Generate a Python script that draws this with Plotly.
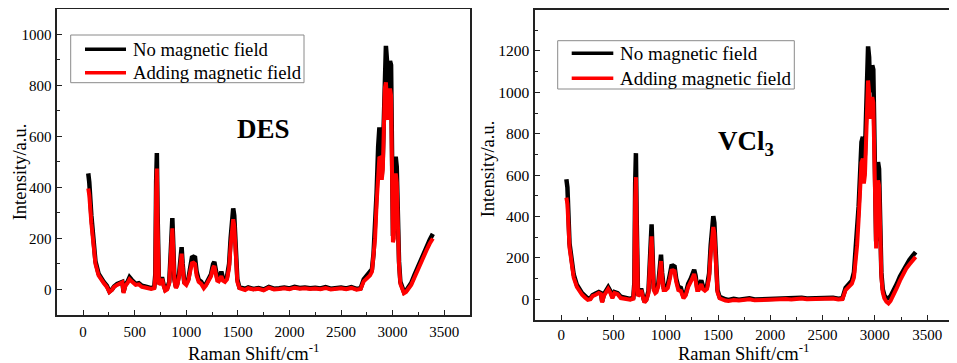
import plotly.graph_objects as go

# Raman shift (cm-1) sampling positions
raman_shift = [
    50, 60, 80, 100, 120, 150, 180, 200, 230, 255,
    280, 300, 330, 360, 380, 392, 410, 430, 450, 470,
    490, 510, 540, 570, 600, 630, 660, 690, 700, 708,
    715, 722, 735, 750, 765, 780, 796, 815, 835, 850,
    858, 865, 872, 885, 900, 912, 930, 945, 955, 965,
    980, 1000, 1020, 1040, 1055, 1070, 1085, 1100, 1120, 1145,
    1170, 1190, 1215, 1240, 1260, 1272, 1285, 1300, 1315, 1330,
    1340, 1355, 1375, 1395, 1415, 1430, 1445, 1455, 1465, 1480,
    1495, 1515, 1540, 1570, 1600, 1650, 1700, 1750, 1800, 1850,
    1900, 1950, 2000, 2050, 2100, 2150, 2200, 2250, 2300, 2350,
    2400, 2450, 2500, 2550, 2600, 2650, 2690, 2720, 2750, 2780,
    2800, 2815, 2830, 2845, 2860, 2872, 2885, 2895, 2905, 2915,
    2925, 2935, 2945, 2955, 2965, 2975, 2985, 2995, 3003, 3012,
    3020, 3030, 3040, 3050, 3062, 3075, 3090, 3110, 3130, 3150,
    3180, 3210, 3240, 3270, 3300, 3330, 3360, 3390,
]

# DES, no magnetic field
des_no_field = [
    455, 420, 290, 200, 110, 62, 40, 30, 15, -8,
    0, 12, 22, 28, 30, -10, 20, 30, 48, 38,
    30, 22, 25, 15, 12, 8, 5, 10, 60, 420,
    535, 300, 25, 30, 48, 20, 0, 5, 30, 150,
    265, 280, 200, 40, 10, 20, 60, 150, 166, 100,
    30, 25, 40, 90, 125, 128, 125, 70, 38, 30,
    12, 20, 45, 60, 100, 108, 80, 45, 40, 60,
    70, 45, 40, 50, 100, 200, 300, 318, 290, 150,
    40, 8, 5, 3, 8, 2, 6, 0, 10, 3,
    5, 8, 4, 10, 6, 8, 5, 7, 4, 9,
    3, 6, 8, 4, 9, 2, 5, 40, 55, 65,
    80, 140, 230, 380, 560, 635, 600, 450, 520, 720,
    920, 955, 900, 720, 870, 895, 880, 600, 210, 230,
    480, 520, 480, 240, 110, 30, 10, -10, -5, 5,
    25, 55, 85, 115, 140, 170, 195, 218,
]

# DES, adding magnetic field
des_with_field = [
    396, 370, 260, 180, 100, 55, 35, 25, 10, -10,
    -2, 10, 18, 24, 28, -14, 15, 25, 40, 32,
    22, 18, 20, 10, 8, 4, 2, 5, 50, 380,
    474, 260, 20, 25, 42, 15, -5, 0, 25, 130,
    225, 240, 175, 35, 5, 15, 50, 125, 140, 85,
    25, 18, 35, 75, 103, 105, 100, 55, 30, 22,
    5, 15, 38, 52, 85, 92, 65, 35, 32, 45,
    52, 35, 30, 40, 85, 170, 260, 275, 250, 125,
    30, 5, 0, -2, 5, 0, 3, -3, 7, 0,
    2, 5, 1, 7, 3, 5, 2, 4, 1, 6,
    0, 3, 5, 1, 6, -1, 2, 32, 45, 55,
    70, 120, 200, 340, 470, 520, 515, 430, 470, 640,
    790, 812, 760, 665, 770, 787, 760, 500, 185, 200,
    420, 455, 420, 215, 95, 22, 2, -15, -10, 0,
    18, 45, 75, 102, 128, 155, 180, 200,
]

# VCl3, no magnetic field
vcl3_no_field = [
    580, 540, 270, 190, 120, 70, 42, 30, 15, 3,
    5, 20, 28, 35, 30, -10, 25, 40, 58, 40,
    12, 35, 30, 12, 8, 3, 2, 8, 80, 560,
    706, 400, 20, 30, 52, 20, -12, 0, 40, 200,
    340, 362, 260, 55, 40, 45, 80, 190, 216, 130,
    60, 60, 70, 120, 160, 162, 158, 100, 60, 55,
    12, 25, 75, 100, 135, 143, 115, 60, 55, 80,
    92, 65, 55, 62, 125, 260, 380, 402, 370, 180,
    45, 12, 5, 0, -3, 2, -2, 0, 5, -1,
    0, 3, 4, 2, 6, 5, 3, 6, 8, 4,
    5, 2, 6, 4, 8, 3, 5, 55, 70, 90,
    130, 220, 300, 450, 620, 760, 785, 650, 700, 900,
    1150, 1222, 1170, 1000, 1080, 1130, 1110, 800, 300, 280,
    560, 663, 630, 330, 130, 50, 20, 5, 5, 15,
    40, 75, 110, 140, 170, 190, 210, 228,
]

# VCl3, adding magnetic field
vcl3_with_field = [
    491, 460, 250, 170, 105, 60, 35, 22, 8, -3,
    0, 15, 22, 30, 25, -15, 18, 32, 50, 32,
    5, 30, 25, 6, 3, -2, -2, 3, 70, 480,
    590, 340, 15, 25, 45, 15, -15, -5, 30, 170,
    285, 304, 220, 45, 30, 35, 65, 160, 185, 110,
    45, 45, 55, 100, 138, 140, 136, 85, 45, 40,
    5, 18, 60, 85, 115, 122, 95, 45, 45, 65,
    74, 50, 42, 50, 105, 220, 330, 349, 320, 155,
    35, 5, -2, -6, -8, -3, -6, -4, 0, -5,
    -4, -1, 0, -2, 2, 1, -1, 2, 4, 0,
    1, -2, 2, 0, 4, -1, 1, 45, 58, 75,
    105, 180, 260, 390, 540, 660, 680, 560, 600, 800,
    1000, 1057, 1000, 872, 950, 977, 950, 680, 250, 246,
    490, 575, 550, 290, 110, 35, 5, -12, -20, -8,
    20, 55, 90, 120, 148, 168, 188, 205,
]

x_ticks = [0, 500, 1000, 1500, 2000, 2500, 3000, 3500]
series_names = ["No magnetic field", "Adding magnetic field"]
series_colors = ["black", "#ff0000"]

FONT = "Liberation Serif"

# The page body has an 8px default margin, so the figure is sized to the
# visible area and positions are given relative to that offset.
W, H = 949, 355
OFF = 8

def px(x):
    return (x - OFF) / W

def py(y):
    return 1 - (y - OFF) / H

fig = go.Figure()
panels = [("x", "y", des_no_field, des_with_field), ("x2", "y2", vcl3_no_field, vcl3_with_field)]
for xa, ya, ys_no, ys_with in panels:
    for name, color, ys, width in zip(series_names, series_colors, [ys_no, ys_with], [4.5, 4]):
        fig.add_trace(go.Scatter(x=raman_shift, y=ys, mode="lines", name=name,
                                 line=dict(color=color, width=width),
                                 xaxis=xa, yaxis=ya, showlegend=False))

def xax(domain, anchor, fs, standoff):
    return dict(domain=domain, anchor=anchor, range=[-250, 3750], tickvals=x_ticks,
                automargin=False,
                ticks="inside", ticklen=5, tickwidth=1.2, tickcolor="#222",
                minor=dict(ticks="inside", ticklen=3, tickwidth=1, dtick=250, tick0=0, tickcolor="#222"),
                showline=True, linecolor="#222", linewidth=1.5, mirror=True,
                showgrid=False, zeroline=False, ticklabelstandoff=standoff,
                tickfont=dict(size=fs, family=FONT, color="black"))

def yax(domain, anchor, rng, fs):
    return dict(domain=domain, anchor=anchor, range=rng, dtick=200, tick0=0,
                automargin=False,
                ticks="inside", ticklen=5, tickwidth=1.2, tickcolor="#222",
                minor=dict(ticks="inside", ticklen=3, tickwidth=1, dtick=100, tick0=0, tickcolor="#222"),
                showline=True, linecolor="#222", linewidth=1.5, mirror=True,
                showgrid=False, zeroline=False, ticklabelstandoff=1,
                tickfont=dict(size=fs, family=FONT, color="black"))

fig.update_layout(
    width=W, height=H,
    margin=dict(l=0, r=0, t=0, b=0, autoexpand=False),
    paper_bgcolor="white", plot_bgcolor="white",
    font=dict(family=FONT, color="black"),
    xaxis=xax([px(57.3), px(470)], "y", 15, 2),
    yaxis=yax([py(315), min(1.0, py(8.8))], "x", [-100, 1100], 15),
    xaxis2=xax([px(535), px(953.3)], "y2", 15, 0),
    yaxis2=yax([py(320), py(9.5)], "x2", [-100, 1400], 15.5),
    showlegend=False,
)

# Legend boxes (drawn in page pixels of the reference): box, sample line, text
legend_boxes = [
    dict(box=(70.7, 35, 304, 82.7), line_x=(85, 126), rows=(49.3, 72.7), text_x=130.7, fs=18.7),
    dict(box=(557.7, 40.7, 794.3, 89), line_x=(571.7, 613.3), rows=(53.3, 78.3), text_x=618.3, fs=19),
]
shapes = []
annotations = []
for lb in legend_boxes:
    x0, y0, x1, y1 = lb["box"]
    shapes.append(dict(type="rect", xref="paper", yref="paper", x0=px(x0), x1=px(x1), y0=py(y1), y1=py(y0),
                       line=dict(color="#8a8a8a", width=1), fillcolor="white", layer="above"))
    for name, color, ry in zip(series_names, series_colors, lb["rows"]):
        shapes.append(dict(type="line", xref="paper", yref="paper", x0=px(lb["line_x"][0]), x1=px(lb["line_x"][1]),
                           y0=py(ry), y1=py(ry), line=dict(color=color, width=3.5), layer="above"))
        annotations.append(dict(text=name, x=px(lb["text_x"]), y=py(ry), xanchor="left", yanchor="middle",
                                font=dict(size=lb["fs"])))

annotations += [
    dict(text="<b>DES</b>", x=px(263.7), y=py(129.3), font=dict(size=27)),
    dict(text="<b>VCl<sub>3</sub></b>", x=px(746), y=py(143), font=dict(size=27)),
    dict(text="Intensity/a.u.", x=0, y=py(172.3), xanchor="left", textangle=-90, font=dict(size=18.5)),
    dict(text="Intensity/a.u.", x=px(488.3), y=py(169), textangle=-90, font=dict(size=18.5)),
    dict(text="Raman Shift/cm<sup>-1</sup>", x=px(254), y=py(351.8), font=dict(size=18.5)),
    dict(text="Raman Shift/cm<sup>-1</sup>", x=px(744), y=py(351.8), font=dict(size=18.5)),
]
for a in annotations:
    a.setdefault("xanchor", "center")
    a.setdefault("yanchor", "middle")
    a.update(xref="paper", yref="paper", showarrow=False)
    a["font"].update(family=FONT, color="black")

fig.update_layout(shapes=shapes, annotations=annotations)

fig.write_html("out.html")
